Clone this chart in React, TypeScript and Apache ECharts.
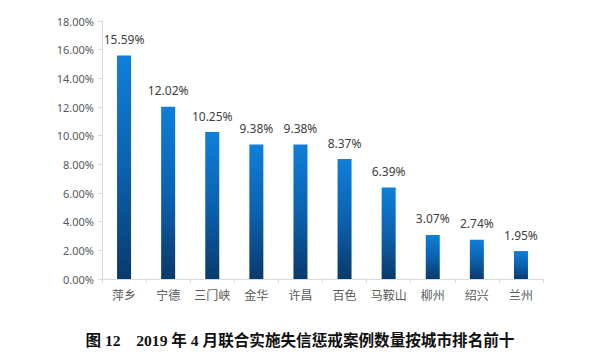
import React, { useEffect, useRef } from "react";
import * as echarts from "echarts";

const cities = ["萍乡", "宁德", "三门峡", "金华", "许昌", "百色", "马鞍山", "柳州", "绍兴", "兰州"];
const shares = [15.59, 12.02, 10.25, 9.38, 9.38, 8.37, 6.39, 3.07, 2.74, 1.95];
const yTicks = { min: 0, max: 18, interval: 2 };
const caption = "图 12　2019 年 4 月联合实施失信惩戒案例数量按城市排名前十";

export default function App() {
  const ref = useRef<HTMLDivElement>(null);
  useEffect(() => {
    const chart = echarts.init(ref.current!, null, { renderer: "svg" });
    chart.setOption({
      animation: false,
      backgroundColor: "#ffffff",
      title: {
        text: caption,
        left: "center",
        top: 328,
        textStyle: {
          fontSize: 15.6,
          fontWeight: "bold",
          color: "#111111",
          fontFamily: "'Liberation Serif', 'Noto Sans CJK SC', serif",
        },
      },
      grid: { left: 102, right: 57, top: 21, bottom: 75 },
      xAxis: {
        type: "category",
        data: cities,
        axisLine: { lineStyle: { color: "#d9d9d9", width: 1 } },
        axisTick: { show: true, alignWithLabel: false, interval: 0, length: 4, lineStyle: { color: "#d9d9d9" } },
        axisLabel: {
          interval: 0,
          color: "#595959",
          fontSize: 12,
          margin: 9,
          fontFamily: "'Noto Sans CJK SC', sans-serif",
        },
      },
      yAxis: {
        type: "value",
        min: yTicks.min,
        max: yTicks.max,
        interval: yTicks.interval,
        splitLine: { show: false },
        axisLine: { show: true, lineStyle: { color: "#d9d9d9", width: 1 } },
        axisTick: { show: true, length: 4, lineStyle: { color: "#d9d9d9" } },
        axisLabel: {
          color: "#595959",
          fontSize: 11,
          margin: 8,
          fontFamily: "'Noto Sans', sans-serif",
          formatter: (v: number) => v.toFixed(2) + "%",
        },
      },
      series: [
        {
          type: "bar",
          data: shares,
          barWidth: 14,
          itemStyle: {
            color: new echarts.graphic.LinearGradient(0, 0, 0, 1, [
              { offset: 0, color: "#0f7fd9" },
              { offset: 0.5, color: "#0b62b0" },
              { offset: 1, color: "#0a3a6b" },
            ]),
          },
          label: {
            show: true,
            position: "top",
            distance: 10,
            color: "#404040",
            fontSize: 12,
            fontFamily: "'Noto Sans', sans-serif",
            formatter: (p: any) => p.value.toFixed(2) + "%",
          },
        },
      ],
    });
    return () => chart.dispose();
  }, []);
  return <div ref={ref} style={{ width: 600, height: 354, position: "absolute", left: 0, top: 0 }} />;
}
